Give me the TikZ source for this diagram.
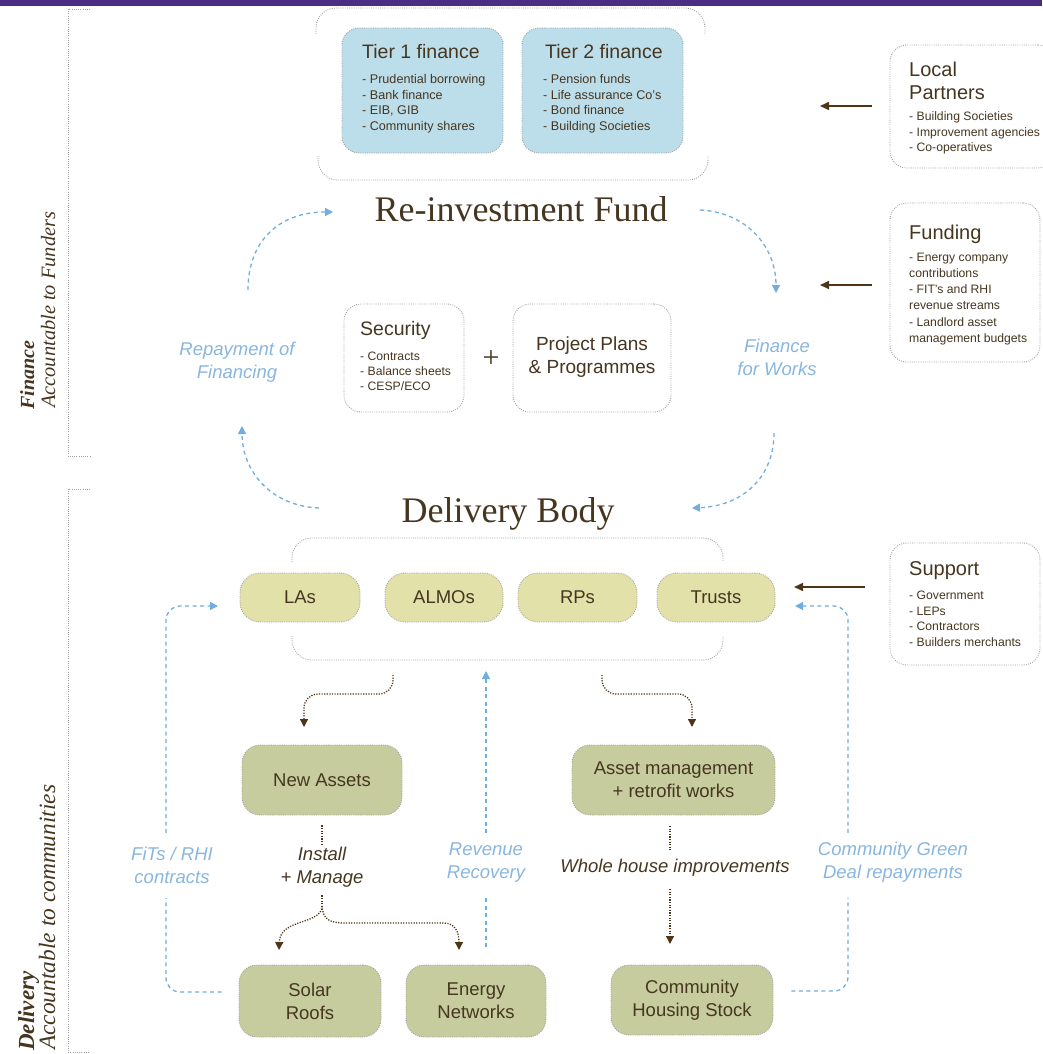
\documentclass[tikz,border=0pt]{standalone}
\usepackage{fontspec}
\setmainfont{Liberation Sans}
\newfontfamily\titlefont{Liberation Serif}
\usetikzlibrary{arrows.meta}
\definecolor{purplebar}{HTML}{4B2E83}
\definecolor{tierblue}{HTML}{BCDDEA}
\definecolor{yelbox}{HTML}{E3E1AA}
\definecolor{sagebox}{HTML}{C6CC9E}
\definecolor{txtbrown}{HTML}{463620}
\definecolor{lblblue}{HTML}{88B6DF}
\definecolor{arrblue}{HTML}{6FAEDF}
\definecolor{arrbrown}{HTML}{4F3517}
\definecolor{dotgray}{HTML}{A0A0A0}
\newcommand\setfs[2]{\fontsize{#1pt}{#2pt}\selectfont}
\tikzset{
  dotline/.style={draw=dotgray, line width=0.9pt, dash pattern=on 0.9pt off 1.3pt},
  rbox/.style={dotline, rounded corners=17pt, inner sep=0pt},
  tierbox/.style={rbox, fill=tierblue},
  ybox/.style={rbox, fill=yelbox, rounded corners=20pt, text=txtbrown, font=\setfs{18.5}{22}},
  gbox/.style={rbox, fill=sagebox, rounded corners=18pt, text=txtbrown, font=\setfs{18.5}{23}, align=center},
  wbox/.style={rbox, fill=white},
  txt/.style={text=txtbrown, inner sep=0pt, align=left},
  ttl/.style={txt, font=\setfs{19.5}{23}},
  itm/.style={txt, font=\setfs{12.6}{15.4}},
  blbl/.style={text=lblblue, font=\setfs{18.5}{23}\itshape, align=center, inner sep=0pt},
  brlbl/.style={blbl, text=txtbrown},
  bdash/.style={draw=arrblue, line width=1.3pt, dash pattern=on 4pt off 3.5pt},
  bdarr/.style={bdash, -{Triangle[length=8pt,width=8pt]}},
  bdot/.style={draw=arrbrown, line width=1.3pt, dash pattern=on 1.2pt off 1.4pt},
  bdotarr/.style={bdot, -{Triangle[length=8pt,width=8pt]}},
  barrow/.style={draw=arrbrown, line width=1.6pt, -{Triangle[length=9pt,width=8pt]}},
  sidelbl/.style={rotate=90, anchor=base west, inner sep=0pt, text=txtbrown},
}
\begin{document}
\begin{tikzpicture}[x=1pt,y=-1pt]
\useasboundingbox (0,0) rectangle (1042,1054);
\fill[purplebar] (0,0) rectangle (1042,6);

% side brackets and labels
\draw[dotline] (90,9) -- (68,9) -- (68,456) -- (90,456);
\draw[dotline] (90,489) -- (68,489) -- (68,1052) -- (90,1052);
\node[sidelbl, font=\titlefont\bfseries\itshape\setfs{20}{20}] (finlbl) at (34,410) {Finance};
\node[sidelbl, font=\titlefont\itshape\setfs{20.4}{20}] (accf) at (55,408) {Accountable to Funders};
\node[sidelbl, font=\titlefont\bfseries\itshape\setfs{23}{23}] (dellbl) at (34,1051) {Delivery};
\node[sidelbl, font=\titlefont\itshape\setfs{23.4}{23}] (accc) at (55,1050) {Accountable to communities};

% tier group
\draw[dotline, rounded corners=20pt] (316,34) -- (316,8) -- (705,8) -- (705,34);
\draw[dotline, rounded corners=20pt] (318,156) -- (318,180) -- (708,180) -- (708,156);
\node[tierbox, minimum width=161pt, minimum height=125pt] (tier1) at (422.5,90.5) {};
\node[tierbox, minimum width=161pt, minimum height=125pt] (tier2) at (602.5,90.5) {};
\node[ttl, anchor=base west] (t1t) at (362,59) {Tier 1 finance};
\node[itm, anchor=north west] (t1l) at (362,74.5) {- Prudential borrowing\\- Bank finance\\- EIB, GIB\\- Community shares};
\node[ttl, anchor=base west] (t2t) at (545,59) {Tier 2 finance};
\node[itm, anchor=north west] (t2l) at (543,74.5) {- Pension funds\\- Life assurance Co's\\- Bond finance\\- Building Societies};

% titles
\node[anchor=base, font=\titlefont\setfs{36}{40}, text=txtbrown, inner sep=0pt] (rif) at (521,221) {Re-investment Fund};
\node[anchor=base, font=\titlefont\setfs{36}{40}, text=txtbrown, inner sep=0pt] (db) at (508,522) {Delivery Body};

% right side boxes
\node[wbox, minimum width=165pt, minimum height=123pt] (lp) at (972.5,106.5) {};
\node[ttl, font=\setfs{20}{23}, anchor=north west] (lpt) at (909,61.5) {Local\\Partners};
\node[itm, font=\setfs{12.2}{15.5}, anchor=north west] (lpl) at (909,111.5) {- Building Societies\\- Improvement agencies\\- Co-operatives};
\node[wbox, minimum width=150pt, minimum height=159pt] (fund) at (965,282.5) {};
\node[ttl, font=\setfs{20}{23}, anchor=base west] (fundt) at (909,239) {Funding};
\node[itm, font=\setfs{12.2}{16.3}, anchor=north west] (fundl) at (909,252.5) {- Energy company\\contributions\\- FIT's and RHI\\revenue streams\\- Landlord asset\\management budgets};
\node[wbox, minimum width=150pt, minimum height=122pt] (sup) at (965,604) {};
\node[ttl, font=\setfs{20}{23}, anchor=base west] (supt) at (909,575) {Support};
\node[itm, font=\setfs{12.2}{15.6}, anchor=north west] (supl) at (909,591) {- Government\\- LEPs\\- Contractors\\- Builders merchants};

\coordinate (lpin) at (820,106);
\coordinate (fundin) at (820,285);
\coordinate (supin) at (794,587);
\draw[barrow, shorten <=18pt] (lp.west |- lpin) -- (lpin);
\draw[barrow, shorten <=18pt] (fund.west |- fundin) -- (fundin);
\draw[barrow, shorten <=25pt] (sup.west |- supin) -- (supin);

% security + project
\node[wbox, minimum width=120pt, minimum height=108pt] (sec) at (404,358) {};
\node[ttl, anchor=base west] (sect) at (360,335) {Security};
\node[itm, font=\setfs{12.2}{15}, anchor=north west] (secl) at (360,351.5) {- Contracts\\- Balance sheets\\- CESP/ECO};
\node[font=\titlefont\setfs{30}{30}, text=txtbrown, inner sep=0pt] (plus) at (491,359) {+};
\node[wbox, minimum width=158pt, minimum height=108pt] (proj) at (592,358) {};
\node[txt, align=center, font=\setfs{19}{23}] (projt) at (592,357.5) {Project Plans\\\& Programmes};

\node[blbl] (repay) at (237,362) {Repayment of\\Financing};
\node[blbl] (fworks) at (777,357) {Finance\\for Works};

% finance loop
\coordinate (l1a) at (248,290); \coordinate (l1b) at (333,212);
\coordinate (r1a) at (700,210); \coordinate (r1b) at (776,293);
\coordinate (l2a) at (319,508); \coordinate (l2b) at (242,426);
\coordinate (r2a) at (774,433); \coordinate (r2b) at (692,508);
\draw[bdarr] (l1a) .. controls (248,240) and (280,212) .. (l1b);
\draw[bdarr] (r1a) .. controls (745,212) and (776,245) .. (r1b);
\draw[bdarr] (l2a) .. controls (270,506) and (242,470) .. (l2b);
\draw[bdarr] (r2a) .. controls (774,478) and (742,506) .. (r2b);

% delivery group
\draw[dotline, rounded corners=20pt] (292,562) -- (292,538) -- (723,538) -- (723,562);
\draw[dotline, rounded corners=20pt] (292,636) -- (292,660) -- (723,660) -- (723,636);
\node[ybox, minimum width=120pt, minimum height=49pt] (las) at (300,597.5) {LAs};
\node[ybox, minimum width=118pt, minimum height=49pt] (almo) at (444,597.5) {ALMOs};
\node[ybox, minimum width=119pt, minimum height=49pt] (rps) at (577.5,597.5) {RPs};
\node[ybox, minimum width=118pt, minimum height=49pt] (trusts) at (716,597.5) {Trusts};

% green boxes
\node[gbox, minimum width=160pt, minimum height=70pt] (na) at (322,780) {New Assets};
\node[gbox, minimum width=203pt, minimum height=70pt] (am) at (673.5,780) {Asset management\\+ retrofit works};
\node[gbox, minimum width=142pt, minimum height=72pt] (solar) at (310,1001) {Solar\\Roofs};
\node[gbox, minimum width=140pt, minimum height=72pt] (energy) at (476,1001) {Energy\\Networks};
\node[gbox, minimum width=162pt, minimum height=70pt] (comm) at (692,1000) {Community\\Housing Stock};

% labels
\node[blbl] (fits) at (172,865) {FiTs / RHI\\contracts};
\node[blbl] (revrec) at (486,863) {Revenue\\Recovery};
\node[blbl] (cgd) at (893,862) {Community Green\\Deal repayments};
\node[brlbl] (inst) at (322,867) {Install\\+ Manage};
\node[brlbl] (whole) at (675,868) {Whole house improvements};

% brown dotted flows
\coordinate (dl) at (393,675); \coordinate (dr) at (602,675);
\coordinate (naTip) at (304,727); \coordinate (amTip) at (692,727);
\draw[bdotarr, rounded corners=14pt] (dl) -- (393,694) -- (304,694) -- (naTip);
\draw[bdotarr, rounded corners=14pt] (dr) -- (602,694) -- (692,694) -- (amTip);
\coordinate (split) at (322,906);
\coordinate (solTip) at (279,950); \coordinate (enTip) at (459,950);
\draw[bdot, shorten <=10pt, shorten >=3pt] (na.south) -- (inst.north);
\draw[bdot, shorten <=8pt] (inst.south) -- (split);
\draw[bdotarr] (split) .. controls (322,925) and (280,918) .. (solTip);
\draw[bdotarr] (split) .. controls (323,920) and (330,923) .. (346,923) -- (444,923) .. controls (455,923) and (459,932) .. (enTip);
\coordinate (amB) at (670,826); \coordinate (whT) at (670,850);
\coordinate (whB) at (670,889); \coordinate (chTip) at (670,944);
\draw[bdot] (amB) -- (whT);
\draw[bdotarr] (whB) -- (chTip);

% blue dashed flows
\coordinate (fitsBot) at (166,898); \coordinate (fitsTop) at (166,833);
\coordinate (lasIn) at (218,606);
\draw[bdash, rounded corners=14pt] ([xshift=-17pt,yshift=9pt]solar.west) -| (fitsBot);
\draw[bdarr, rounded corners=14pt] (fitsTop) |- (lasIn);
\coordinate (revBot) at (486,947); \coordinate (revMid) at (486,897);
\coordinate (revTop) at (486,833); \coordinate (revTip) at (486,671);
\draw[bdash] (revBot) -- (revMid);
\draw[bdarr] (revTop) -- (revTip);
\coordinate (cgdBot) at (848,898); \coordinate (cgdTop) at (848,833);
\coordinate (trIn) at (795,606);
\draw[bdash, rounded corners=14pt] ([xshift=18pt,yshift=9pt]comm.east) -| (cgdBot);
\draw[bdarr, rounded corners=14pt] (cgdTop) |- (trIn);
\end{tikzpicture}
\end{document}
